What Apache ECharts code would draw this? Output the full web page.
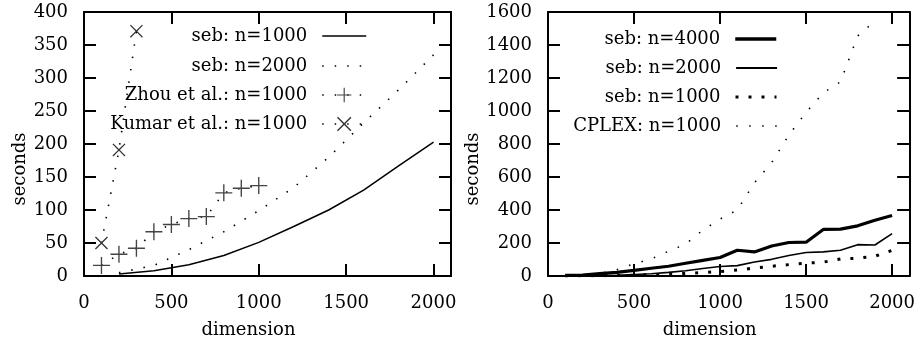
<!DOCTYPE html>
<html><head><meta charset="utf-8">
<script src="https://cdn.jsdelivr.net/npm/echarts@6/dist/echarts.min.js"></script>
<style>html,body{margin:0;padding:0;background:#fff}#c{width:918px;height:349px}</style>
</head><body><div id="c"></div>
<script>
// ---- tick labels ----
const xTicks = [0, 500, 1000, 1500, 2000];
const yTicksLeft = [0, 50, 100, 150, 200, 250, 300, 350, 400];
const yTicksRight = [0, 200, 400, 600, 800, 1000, 1200, 1400, 1600];

// ---- left panel data ----
const dimsLeftSeb = [200, 400, 600, 800, 1000, 1200, 1400, 1600, 1800, 2000];
const sebLeft1000 = [3, 8, 17, 31, 51, 75, 100, 130, 167, 203];
const sebLeft2000 = [5, 16, 40, 67, 99, 134, 180, 232, 282, 335];
const dimsZhou = [100, 200, 300, 400, 500, 600, 700, 800, 900, 1000];
const zhou1000 = [16, 33, 42, 67, 78, 87, 90, 126, 133, 137];
const dimsKumar = [100, 200, 300];
const kumar1000 = [50, 191, 371];

// ---- right panel data ----
const dimsRight = [100, 200, 300, 400, 500, 600, 700, 800, 900, 1000, 1100, 1200, 1300, 1400, 1500, 1600, 1700, 1800, 1900, 2000];
const sebRight4000 = [4, 6, 14, 22, 34, 47, 59, 77, 95, 112, 156, 146, 182, 203, 205, 282, 284, 304, 338, 367];
const sebRight2000 = [1, 2, 3, 5, 9, 14, 22, 32, 45, 58, 63, 85, 101, 124, 142, 146, 156, 190, 188, 257];
const sebRight1000 = [0.5, 1, 2, 3, 5, 8, 11, 16, 21, 27, 36, 48, 59, 69, 78, 84, 103, 108, 120, 155];
const dimsCplex = [100, 200, 300, 400, 500, 600, 700, 800, 900, 1000, 1100, 1200, 1300, 1400, 1500, 1600, 1700, 1800, 1900];
const cplex1000 = [1, 5, 15, 38, 74, 103, 150, 193, 278, 345, 400, 565, 687, 855, 992, 1110, 1177, 1455, 1545];

const X_MAX = 2100;
const FONT = 'DejaVu Serif';
const zip = (xs, ys) => xs.map((x, i) => [x, ys[i]]);
const labels = {
  L1: 'seb: n=1000', L2: 'seb: n=2000', LZ: 'Zhou et al.: n=1000', LK: 'Kumar et al.: n=1000',
  R4: 'seb: n=4000', R2: 'seb: n=2000', R1: 'seb: n=1000', RC: 'CPLEX: n=1000'
};
const PLUS = 'path://M9.2,0 h1.6 v20 h-1.6 z M0,9.2 h20 v1.6 h-20 z';
const CROSS = 'path://M0,1.4 L1.4,0 L10,8.6 L18.6,0 L20,1.4 L11.4,10 L20,18.6 L18.6,20 L10,11.4 L1.4,20 L0,18.6 L8.6,10 Z';

const textBase = { fontFamily: FONT, fontSize: 18, color: '#000' };
const plain = v => String(v);
const lineStyleBlack = () => ({ color: '#000', width: 2 });
const TICK_LEN = 12;
const GRID_L = { left: 84, top: 12, width: 367, height: 264 };
const GRID_R = { left: 548, top: 12, width: 366, height: 264 };

function xAxisMain(grid) {
  return { type: 'value', gridIndex: grid, position: 'bottom', min: 0, max: X_MAX, interval: 500,
    name: 'dimension', nameLocation: 'middle', nameGap: 45,
    nameTextStyle: Object.assign({}, textBase, { padding: [0, 38, 0, 0] }),
    axisLine: { show: true, onZero: false, lineStyle: lineStyleBlack() },
    axisTick: { show: true, inside: true, length: TICK_LEN, lineStyle: lineStyleBlack() },
    axisLabel: Object.assign({}, textBase, { margin: 18, customValues: xTicks, formatter: plain }),
    splitLine: { show: false } };
}
function xAxisTop(grid) {
  return { type: 'value', gridIndex: grid, position: 'top', min: 0, max: X_MAX, interval: 500,
    axisLine: { show: true, onZero: false, lineStyle: lineStyleBlack() },
    axisTick: { show: true, inside: true, length: TICK_LEN, lineStyle: lineStyleBlack() },
    axisLabel: { show: false }, splitLine: { show: false } };
}
function yAxisMain(grid, max, interval, ticks) {
  return { type: 'value', gridIndex: grid, position: 'left', min: 0, max: max, interval: interval,
    name: 'seconds', nameLocation: 'middle', nameGap: 53,
    nameTextStyle: Object.assign({}, textBase, { padding: [0, 50, 0, 0] }),
    axisLine: { show: true, onZero: false, lineStyle: lineStyleBlack() },
    axisTick: { show: true, inside: true, length: TICK_LEN, lineStyle: lineStyleBlack() },
    axisLabel: Object.assign({}, textBase, { margin: 16, customValues: ticks, formatter: plain }),
    splitLine: { show: false } };
}
function yAxisRight(grid, max, interval) {
  return { type: 'value', gridIndex: grid, position: 'right', min: 0, max: max, interval: interval,
    axisLine: { show: true, onZero: false, lineStyle: lineStyleBlack() },
    axisTick: { show: true, inside: true, length: TICK_LEN, lineStyle: lineStyleBlack() },
    axisLabel: { show: false }, splitLine: { show: false } };
}

// inward tick marks on all four sides, as markLine segments placed through the axis scales
function tickMarkLine(grid, yMax, xt, yt) {
  const lx = TICK_LEN * X_MAX / grid.width;
  const ly = TICK_LEN * yMax / grid.height;
  const segs = [];
  xt.forEach(v => {
    segs.push([{ coord: [v, 0] }, { coord: [v, ly] }]);
    segs.push([{ coord: [v, yMax] }, { coord: [v, yMax - ly] }]);
  });
  yt.forEach(v => {
    segs.push([{ coord: [0, v] }, { coord: [lx, v] }]);
    segs.push([{ coord: [X_MAX, v] }, { coord: [X_MAX - lx, v] }]);
  });
  return {
    silent: true, symbol: ['none', 'none'], animation: false,
    label: { show: false }, emphasis: { disabled: true },
    lineStyle: { color: '#000', width: 2, type: 'solid' },
    data: segs
  };
}

function legendItem(key, right, cy, w, hasSymbol, lw) {
  const h = hasSymbol ? 18 : 14;
  const lg = {
    data: [key], right: right, top: cy - 11, orient: 'horizontal', align: 'right',
    itemWidth: w, itemHeight: h, padding: 0, itemGap: 0, selectedMode: false,
    formatter: n => labels[n],
    textStyle: Object.assign({}, textBase, { padding: [0, 10, 0, 0] })
  };
  if (!hasSymbol) lg.itemStyle = { opacity: 0 };
  if (lw) lg.lineStyle = { width: lw };
  return lg;
}

const DOT = [1.5, 11];
const option = {
  animation: false,
  backgroundColor: '#fff',
  grid: [GRID_L, GRID_R],
  xAxis: [xAxisMain(0), xAxisTop(0), xAxisMain(1), xAxisTop(1)],
  yAxis: [
    yAxisMain(0, 400, 50, yTicksLeft), yAxisRight(0, 400, 50),
    yAxisMain(1, 1600, 200, yTicksRight), yAxisRight(1, 1600, 200)
  ],
  legend: [
    legendItem('L1', 551, 38, 44, false, 1.5), legendItem('L2', 551, 68, 44, false, 1.6),
    legendItem('LZ', 551, 97, 44, true, 1.6), legendItem('LK', 551, 126, 44, true, 1.6),
    legendItem('R4', 140, 41, 41, false, 3.5), legendItem('R2', 140, 70, 41, false, 1.8),
    legendItem('R1', 140, 99, 41, false, 3), legendItem('RC', 140, 128, 41, false, 1.6)
  ],
  series: [
    { name: 'L1', type: 'line', xAxisIndex: 0, yAxisIndex: 0, data: zip(dimsLeftSeb, sebLeft1000),
      symbol: 'none', itemStyle: { color: '#000' }, lineStyle: { color: '#000', width: 1.5 },
      markLine: tickMarkLine(GRID_L, 400, xTicks, yTicksLeft) },
    { name: 'L2', type: 'line', xAxisIndex: 0, yAxisIndex: 0, data: zip(dimsLeftSeb, sebLeft2000),
      symbol: 'none', itemStyle: { color: '#000' }, lineStyle: { color: '#000', width: 1.6, type: DOT } },
    { name: 'LZ', type: 'line', xAxisIndex: 0, yAxisIndex: 0, data: zip(dimsZhou, zhou1000),
      symbol: PLUS, symbolSize: 17, itemStyle: { color: '#444' },
      lineStyle: { color: '#000', width: 1.6, type: DOT } },
    { name: 'LK', type: 'line', xAxisIndex: 0, yAxisIndex: 0, data: zip(dimsKumar, kumar1000),
      symbol: CROSS, symbolSize: 13, itemStyle: { color: '#333' },
      lineStyle: { color: '#000', width: 1.6, type: DOT } },
    { name: 'R4', type: 'line', xAxisIndex: 2, yAxisIndex: 2, data: zip(dimsRight, sebRight4000),
      symbol: 'none', itemStyle: { color: '#000' }, lineStyle: { color: '#000', width: 3.2 },
      markLine: tickMarkLine(GRID_R, 1600, xTicks, yTicksRight) },
    { name: 'R2', type: 'line', xAxisIndex: 2, yAxisIndex: 2, data: zip(dimsRight, sebRight2000),
      symbol: 'none', itemStyle: { color: '#000' }, lineStyle: { color: '#000', width: 1.6 } },
    { name: 'R1', type: 'line', xAxisIndex: 2, yAxisIndex: 2, data: zip(dimsRight, sebRight1000),
      symbol: 'none', itemStyle: { color: '#000' }, lineStyle: { color: '#000', width: 3, type: [3, 10] } },
    { name: 'RC', type: 'line', xAxisIndex: 2, yAxisIndex: 2, data: zip(dimsCplex, cplex1000),
      symbol: 'none', itemStyle: { color: '#000' }, lineStyle: { color: '#000', width: 1.6, type: [1.5, 11.5] } }
  ]
};
const chart = echarts.init(document.getElementById('c'), null, { renderer: 'canvas' });
chart.setOption(option);
</script></body></html>
